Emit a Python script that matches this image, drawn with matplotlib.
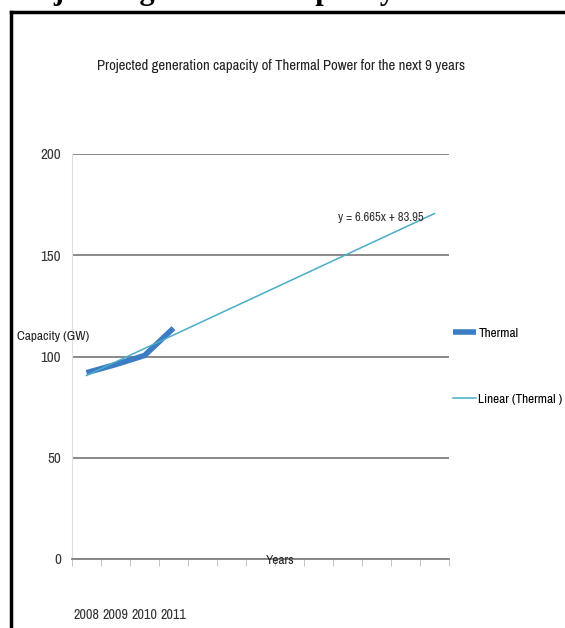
import matplotlib
matplotlib.use("Agg")
import matplotlib.pyplot as plt
from matplotlib import font_manager
from matplotlib.lines import Line2D

# thermal capacity (GW) for the recorded years
years = ["2008", "2009", "2010", "2011"]
thermal = [92.0, 96.0, 100.5, 114.0]

# linear trend forecast over the next 9 years
trend_slope = 6.665
trend_icept = 83.95
n_periods = 13

# prefer a narrow face for the chart text, else shrink a regular one
fonts = font_manager.fontManager.ttflist
narrow = [f.name for f in fonts if "Narrow" in f.name or "Condensed" in f.name]
if narrow:
    FONT, SCALE = narrow[0], 1.2
else:
    FONT, SCALE = "Liberation Sans", 1.0
plt.rcParams["font.family"] = [FONT, "DejaVu Sans"]


def fs(size):
    return size * SCALE


W, H = 565, 628
fig = plt.figure(figsize=(W / 100, H / 100), dpi=100)
fig.patch.set_facecolor("white")

# heading of the page above, cut by the top edge
fig.text(7 / W, 1.0 + 1 / H, "Projected generation capacity of Thermal Power",
         family="Liberation Serif", weight="bold", fontsize=22,
         ha="left", va="baseline")

# frame around the chart (left and top edges)
fig.add_artist(Line2D([11 / W, 11 / W], [0, 1 - 12 / H], transform=fig.transFigure,
                      color="black", lw=2.5))
fig.add_artist(Line2D([11 / W, 1.0], [1 - 12 / H, 1 - 12 / H], transform=fig.transFigure,
                      color="black", lw=2.5))

ax = fig.add_axes([72 / W, (H - 559) / H, 377 / W, (559 - 154) / H])

xs = list(range(1, len(thermal) + 1))
ax.plot(xs, thermal, color="#3b7cc4", lw=4.0, solid_capstyle="butt", zorder=3,
        label="Thermal")

tx = list(range(1, n_periods + 1))
ty = [trend_slope * x + trend_icept for x in tx]
ax.plot(tx, ty, color="#4bacc6", lw=1.1, zorder=4, label="Linear (Thermal )")

ax.text(11.15, 168.5, "y = 6.665x + 83.95", fontsize=fs(7.6), color="#333333",
        ha="center", va="center", zorder=5)

ax.set_xlim(0.5, n_periods + 0.5)
ax.set_ylim(0, 200)
ax.set_yticks([0, 50, 100, 150, 200])
ax.yaxis.grid(True, color="#808080", lw=1.3)
ax.set_axisbelow(True)
ax.tick_params(axis="y", length=0, pad=8, labelsize=fs(9), labelcolor="#333333")

ax.set_xticks(xs)
ax.set_xticklabels(years)
ax.set_xticks([x + 0.5 for x in range(0, n_periods + 1)], minor=True)
ax.tick_params(axis="x", which="major", length=0, pad=35, labelsize=fs(8.5),
               labelcolor="#333333")
ax.tick_params(axis="x", which="minor", length=5, color="#bbbbbb")

for side in ["top", "right"]:
    ax.spines[side].set_visible(False)
ax.spines["left"].set_color("#dddddd")
ax.spines["bottom"].set_color("#808080")
ax.spines["bottom"].set_linewidth(1.3)

fig.text(281 / W, 1 - 66 / H, "Projected generation capacity of Thermal Power for the next 9 years",
         fontsize=fs(8.9), ha="center", va="center", color="#222222")
fig.text(17 / W, 1 - 336 / H, "Capacity (GW)", fontsize=fs(8), ha="left", va="center",
         color="#222222")
fig.text(280 / W, 1 - 560 / H, "Years", fontsize=fs(8), ha="center", va="center",
         color="#222222")

fig.legend(loc="center left", bbox_to_anchor=(453 / W, 1 - 366 / H), frameon=False,
           fontsize=fs(8), handlelength=1.7, handletextpad=0.2, labelspacing=4.1,
           borderpad=0, borderaxespad=0)

fig.savefig("out.png", dpi=100)
